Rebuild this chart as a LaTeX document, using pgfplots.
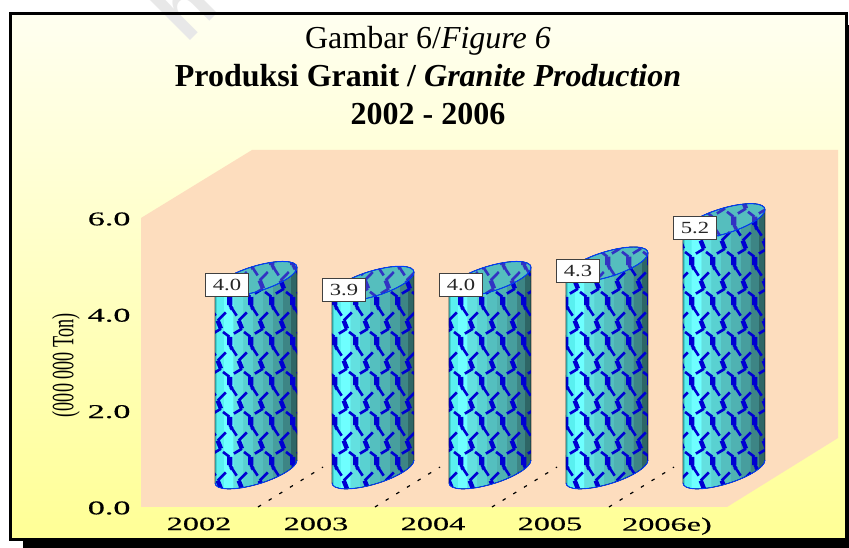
\documentclass[border=0pt]{standalone}
\usepackage{fontspec}
\usepackage{graphicx}
\usepackage{pgfplots}
\pgfplotsset{compat=1.18}
\usetikzlibrary{patterns}
\setmainfont{Liberation Serif}
\newfontfamily\wmfont{Liberation Sans}
\newfontfamily\tickfont[FakeBold=0.35]{Liberation Serif}
\definecolor{wall}{RGB}{253,221,190}
\definecolor{bgtop}{RGB}{255,255,240}
\definecolor{bgbot}{RGB}{255,255,150}
\definecolor{patblue}{RGB}{0,0,210}
\definecolor{toppat}{RGB}{50,50,195}
\definecolor{topfill}{RGB}{85,190,190}
\definecolor{rimblue}{RGB}{0,60,255}
\pgfdeclarehorizontalshading{cylband}{100bp}{%
 rgb(0bp)=(0.27,0.82,0.82);rgb(26bp)=(0.27,0.82,0.82);
 rgb(26bp)=(0.35,0.94,0.94);rgb(30bp)=(0.35,0.94,0.94);
 rgb(30bp)=(0.43,1,1);rgb(36bp)=(0.43,1,1);
 rgb(36bp)=(0.39,0.88,0.88);rgb(42bp)=(0.39,0.88,0.88);
 rgb(42bp)=(0.35,0.82,0.82);rgb(48bp)=(0.35,0.82,0.82);
 rgb(48bp)=(0.33,0.75,0.75);rgb(54bp)=(0.33,0.75,0.75);
 rgb(54bp)=(0.31,0.70,0.70);rgb(60bp)=(0.31,0.70,0.70);
 rgb(60bp)=(0.28,0.62,0.62);rgb(66bp)=(0.28,0.62,0.62);
 rgb(66bp)=(0.24,0.52,0.52);rgb(71bp)=(0.24,0.52,0.52);
 rgb(71bp)=(0.18,0.40,0.40);rgb(100bp)=(0.18,0.40,0.40)}
\def\lin#1#2#3#4#5{\pgfsetlinewidth{#5pt}\pgfpathmoveto{\pgfpoint{#1pt}{#2pt}}\pgfpathlineto{\pgfpoint{#3pt}{#4pt}}\pgfusepath{stroke}}
\def\motifA#1#2{\pgfmathsetmacro\ax{#1}\pgfmathsetmacro\ay{#2}%
 \pgfmathsetmacro\xa{\ax+6.7}\pgfmathsetmacro\ya{\ay+11.7}\pgfmathsetmacro\xb{\ax-1.7}\pgfmathsetmacro\yb{\ay+3.3}%
 \pgfmathsetmacro\xc{\ax+1.7}\pgfmathsetmacro\yc{\ay-5}\pgfmathsetmacro\xd{\ax-6.7}\pgfmathsetmacro\yd{\ay-10}%
 \lin{\xa}{\ya}{\xb}{\yb}{2.7}\lin{\xb}{\yb}{\xc}{\yc}{4.6}\lin{\xc}{\yc}{\xd}{\yd}{2.7}}
\def\motifB#1#2{\pgfmathsetmacro\ax{#1}\pgfmathsetmacro\ay{#2}%
 \pgfmathsetmacro\xa{\ax-6.7}\pgfmathsetmacro\ya{\ay+11.7}\pgfmathsetmacro\xb{\ax}\pgfmathsetmacro\yb{\ay+6.7}%
 \pgfmathsetmacro\xc{\ax}\pgfmathsetmacro\yc{\ay-1.7}\pgfmathsetmacro\xd{\ax+6.7}\pgfmathsetmacro\yd{\ay-11.7}%
 \lin{\xa}{\ya}{\xb}{\yb}{2.7}\lin{\xb}{\yb}{\xc}{\yc}{4.6}\lin{\xc}{\yc}{\xd}{\yd}{2.7}}
\pgfdeclarepatternformonly{chain}{\pgfqpoint{0pt}{0pt}}{\pgfqpoint{21pt}{40pt}}{\pgfqpoint{21pt}{40pt}}{%
 \motifA{9.7}{24.7}\motifB{20.2}{4.7}\motifB{-0.8}{4.7}\motifB{20.2}{44.7}\motifB{-0.8}{44.7}}
\pgfdeclareplotmark{cyl}{%
 \begin{pgfscope}%
 \pgfmathsetlengthmacro\cylH{\yval*48.167pt}%
 \pgftransformcm{1}{0.277}{0}{1}{\pgfpoint{0pt}{35.5pt}}%
 \shade[shading=cylband] (-41pt,0pt) -- (-41pt,-\cylH) arc[start angle=180,end angle=360,x radius=41pt,y radius=13.12pt] -- (41pt,0pt) arc[start angle=0,end angle=180,x radius=41pt,y radius=13.12pt] -- cycle;
 \fill[pattern=chain,pattern color=patblue] (-41pt,0pt) -- (-41pt,-\cylH) arc[start angle=180,end angle=360,x radius=41pt,y radius=13.12pt] -- (41pt,0pt) arc[start angle=0,end angle=180,x radius=41pt,y radius=13.12pt] -- cycle;
 \draw[rimblue,line width=0.9pt] (-41pt,-\cylH) arc[start angle=180,end angle=360,x radius=41pt,y radius=13.12pt];
 \fill[topfill] (0pt,0pt) ellipse[x radius=41pt,y radius=13.12pt];
 \fill[pattern=chain,pattern color=toppat] (0pt,0pt) ellipse[x radius=41pt,y radius=13.12pt];
 \draw[rimblue,line width=1pt] (0pt,0pt) ellipse[x radius=41pt,y radius=13.12pt];
 \end{pgfscope}%
}
\begin{document}
\begin{tikzpicture}[x=1pt,y=1pt]
\useasboundingbox (0,0) rectangle (849,548);
\begin{scope}
\clip (0,0) rectangle (849,548);
\fill[white] (0,0) rectangle (849,548);
\fill[black] (23,0) rectangle (849,523);
\shade[top color=bgtop,bottom color=bgbot] (12,10) rectangle (845,533);
\node[rotate=45,text=black!9,font=\wmfont\bfseries\fontsize{80pt}{80pt}\selectfont,anchor=base west] at (184,501) {h};
\draw[black,line width=3pt] (10.5,8.5) rectangle (846.5,534.5);
\end{scope}
\fill[wall] (141,41) -- (141,330) -- (252,398) -- (838,398) -- (838,110) -- (727,41) -- cycle;
\node[anchor=base,font=\fontsize{32pt}{32pt}\selectfont] at (428,499) {Gambar 6/\textit{Figure 6}};
\node[anchor=base,font=\bfseries\fontsize{32pt}{32pt}\selectfont] at (428,461) {Produksi Granit / \textit{Granite Production}};
\node[anchor=base,font=\bfseries\fontsize{32pt}{32pt}\selectfont] at (428,423) {2002 - 2006};
\begin{axis}[
 at={(141pt,41pt)},anchor=south west,
 scale only axis,width=586pt,height=289pt,
 xmin=-0.983,xmax=4.026,ymin=0,ymax=6,
 clip=false,
 axis line style={draw=none},
 major tick length=0pt,
 xtick={0,1,2,3,4},
 xticklabels={\scalebox{1.7}[1]{2002},\scalebox{1.7}[1]{2003},\scalebox{1.7}[1]{2004},\scalebox{1.7}[1]{2005},\scalebox{1.7}[1]{2006e)}},
 xticklabel style={font=\tickfont\fontsize{19pt}{19pt}\selectfont,xshift=-57pt,yshift=-7pt,anchor=north},
 ytick={0,2,4,6},
 yticklabel={\scalebox{1.75}[1]{\pgfmathprintnumber[fixed,fixed zerofill,precision=1,assume math mode=true]{\tick}}},
 yticklabel style={font=\tickfont\fontsize{19.5pt}{19.5pt}\selectfont,anchor=east,xshift=-7pt,yshift=-1pt},
 ylabel={\scalebox{0.585}[1]{(000 000 Ton)}},
 every axis y label/.style={at={(rel axis cs:0,0.49)},rotate=90,anchor=center,yshift=75pt,font=\fontsize{31pt}{31pt}\selectfont},
]
\addplot[black,line width=1.2pt,dash pattern=on 3.5pt off 9pt] coordinates {
 (0.017,0) (0.573,0.83)

 (1.017,0) (1.573,0.83)

 (2.017,0) (2.573,0.83)

 (3.017,0) (3.573,0.83)
};
\addplot[
 only marks,scatter,scatter src=y,mark=cyl,
 visualization depends on={rawy \as \yval},
 scatter/@pre marker code/.code={\begin{scope}},
 scatter/@post marker code/.code={\end{scope}},
 nodes near coords={\scalebox{1.33}[1]{\pgfmathprintnumber[fixed,fixed zerofill,precision=1,assume math mode=true]{\pgfplotspointmeta}}},
 every node near coord/.style={anchor=center,xshift=-29pt,yshift=29pt,draw=black!75,line width=1pt,fill=white,text=black!85,minimum width=43pt,minimum height=23pt,inner sep=0pt,font=\fontsize{17pt}{17pt}\selectfont},
] table[x=pos,y=val] {
pos val
0 4.0
1 3.9
2 4.0
3 4.3
4 5.2
};
\end{axis}
\end{tikzpicture}
\end{document}
